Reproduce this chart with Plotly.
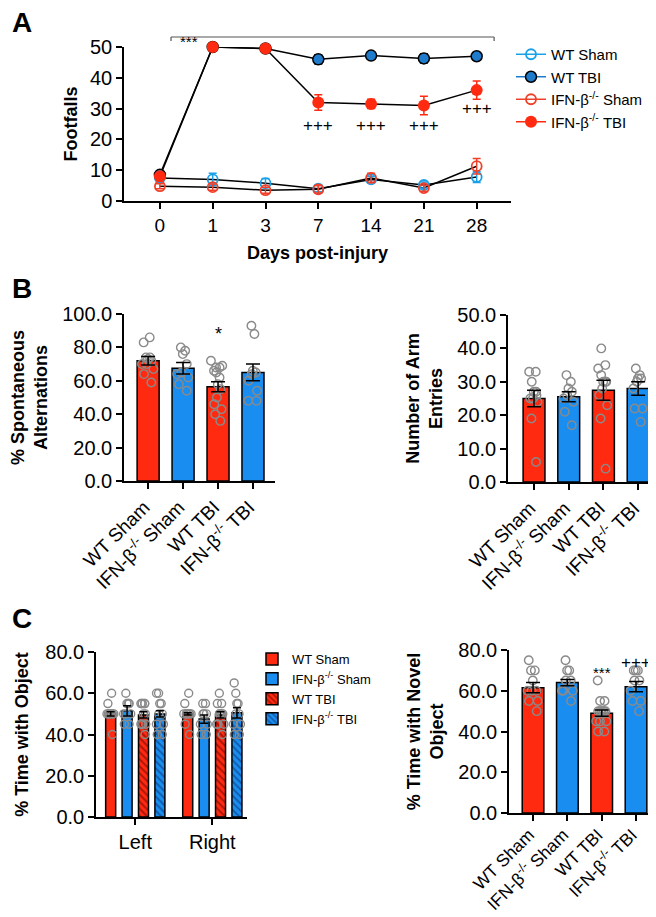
import plotly.graph_objects as go

W, H = 656, 917
FONT = "Liberation Sans, Arial, sans-serif"
RED = "#ff2a10"
BLUE = "#1a8ef0"
DOT = "#8a8a8a"

# ---------------- Panel A data ----------------
days = ["0", "1", "3", "7", "14", "21", "28"]
wt_sham = [7.5, 7.0, 5.8, 4.0, 7.0, 5.2, 7.8]
wt_sham_err = [0.8, 2.0, 1.5, 1.0, 1.0, 1.0, 1.8]
wt_tbi = [8.5, 50.0, 49.5, 46.0, 47.2, 46.3, 47.0]
wt_tbi_err = [0.8, 0.3, 0.5, 1.5, 0.8, 1.5, 0.8]
ifn_sham = [4.8, 4.5, 3.5, 3.8, 7.5, 4.2, 11.3]
ifn_sham_err = [0.8, 1.0, 1.0, 1.2, 1.5, 1.0, 2.5]
ifn_tbi = [8.0, 50.0, 49.5, 32.0, 31.5, 31.0, 36.0]
ifn_tbi_err = [0.8, 0.3, 0.5, 2.5, 1.5, 3.0, 3.0]
plus_days = ["7", "14", "21", "28"]
plus_y = [24.6, 24.6, 24.6, 30.0]

# ---------------- Panel B / C groups ----------------
groups = ["WT Sham", "IFN-β<sup>-/-</sup> Sham", "WT TBI", "IFN-β<sup>-/-</sup> TBI"]
group_colors = [RED, BLUE, RED, BLUE]

alt_mean = [72.0, 67.5, 56.5, 65.0]
alt_sem = [2.5, 3.5, 3.0, 5.0]
alt_pts = [
    [86, 83, 74, 74, 73, 70, 70, 67, 64, 59, 72],
    [80, 78, 76, 70, 65, 62, 58, 54, 64],
    [72, 69, 68, 68, 66, 65, 62, 58, 55, 50, 46, 43, 40, 36],
    [93, 88, 66, 65, 60, 54, 48, 48, 64],
]

arm_mean = [25.0, 25.5, 27.5, 28.0]
arm_sem = [2.5, 1.5, 3.0, 2.0]
arm_pts = [
    [33, 33, 30, 27, 26, 25, 25, 24, 19, 6, 27],
    [32, 30, 28, 27, 25, 24, 21, 17, 26],
    [40, 35, 34, 32, 30, 30, 30, 28, 26, 23, 19, 4],
    [34, 32, 31, 31, 30, 28, 22, 22, 18],
]

sides = ["Left", "Right"]
obj_mean = [[50.0, 50.0], [51.5, 47.5], [49.5, 49.5], [50.0, 50.5]]
obj_sem = [[1.0, 0.5], [2.5, 2.0], [1.5, 1.5], [1.5, 2.5]]
obj_pts = [
    [[60, 55, 50, 50, 50, 50, 50, 50, 50, 40, 50], [60, 50, 50, 50, 50, 50, 50, 50, 45, 40, 55]],
    [[60, 55, 55, 55, 50, 45, 45, 50, 50], [55, 55, 50, 50, 45, 45, 40, 40, 50]],
    [[55, 55, 55, 55, 55, 50, 50, 45, 45, 45, 40, 45], [60, 55, 55, 50, 50, 50, 45, 45, 40, 45, 50, 50]],
    [[60, 60, 55, 55, 50, 50, 45, 40, 45, 40], [65, 60, 55, 55, 50, 45, 40, 45, 40, 50]],
]

nov_mean = [61.5, 64.0, 49.0, 62.0]
nov_sem = [2.5, 1.5, 1.5, 2.5]
nov_pts = [
    [75, 70, 70, 65, 60, 60, 55, 50, 55, 60],
    [75, 70, 70, 65, 65, 60, 60, 55, 60],
    [65, 55, 55, 50, 50, 50, 50, 50, 50, 45, 45, 45, 40, 40],
    [70, 70, 70, 65, 60, 55, 50, 65, 55],
]


def xd(a, b):
    return [a / W, b / W]


def yd(top, bottom):
    return [1 - bottom / H, 1 - top / H]


fig = go.Figure()

# ---------------- Panel A ----------------
series = [
    ("WT Sham", wt_sham, wt_sham_err, dict(symbol="circle-open", color="#1aa0e8", size=10, line=dict(width=1.8)), "#1aa0e8"),
    ("WT TBI", wt_tbi, wt_tbi_err, dict(symbol="circle", color="#1f7ccc", size=11, line=dict(width=1.5, color="black")), "black"),
    ("IFN-β<sup>-/-</sup> Sham", ifn_sham, ifn_sham_err, dict(symbol="circle-open", color="#f0402a", size=10, line=dict(width=1.8)), "#f0402a"),
    ("IFN-β<sup>-/-</sup> TBI", ifn_tbi, ifn_tbi_err, dict(symbol="circle", color=RED, size=12, line=dict(width=0)), RED),
]
for name, vals, err, mk, ecol in series:
    fig.add_trace(go.Scatter(x=days, y=vals, mode="lines", line=dict(color="black", width=1.5),
                             showlegend=False, xaxis="x", yaxis="y", cliponaxis=False, hoverinfo="skip"))
for name, vals, err, mk, ecol in series:
    fig.add_trace(go.Scatter(x=days, y=vals, mode="markers", marker=mk, showlegend=False,
                             error_y=dict(type="data", array=err, color=ecol, thickness=1.5, width=4),
                             xaxis="x", yaxis="y", cliponaxis=False, name=name))
for name, vals, err, mk, ecol in series:
    lc = mk["color"]
    fig.add_trace(go.Scatter(x=[None], y=[None], mode="lines+markers", name=name,
                             line=dict(color=lc, width=1.5), marker=mk, legend="legend",
                             xaxis="x", yaxis="y"))

# ---------------- Panel B & C right (bar + dots) ----------------
def bar_panel(xa, ya, means, sems, pts, width):
    fig.add_trace(go.Bar(x=groups, y=means, width=width, marker=dict(color=group_colors, line=dict(color="black", width=1.5)),
                         showlegend=False, xaxis=xa, yaxis=ya))
    for g, p in zip(groups, pts):
        fig.add_trace(go.Box(x=[g] * len(p), y=p, boxpoints="all", jitter=0.85, pointpos=0,
                             fillcolor="rgba(0,0,0,0)", line=dict(width=0, color="rgba(0,0,0,0)"), whiskerwidth=0,
                             marker=dict(symbol="circle-open", color=DOT, size=8.5, line=dict(width=1.4)),
                             showlegend=False, xaxis=xa, yaxis=ya, hoverinfo="skip"))
    fig.add_trace(go.Scatter(x=groups, y=means, mode="markers", marker=dict(size=1, color="rgba(0,0,0,0)"),
                             error_y=dict(type="data", array=sems, color="black", thickness=1.5, width=7),
                             showlegend=False, xaxis=xa, yaxis=ya, cliponaxis=False))


bar_panel("x2", "y2", alt_mean, alt_sem, alt_pts, 0.63)
bar_panel("x3", "y3", arm_mean, arm_sem, arm_pts, 0.63)
bar_panel("x5", "y5", nov_mean, nov_sem, nov_pts, 0.63)

# ---------------- Panel C left (grouped, patterned) ----------------
slot = 0.213
bw = 0.13
for gi, g in enumerate(groups):
    pos = [ci + (gi - 1.5) * slot for ci in range(len(sides))]
    pattern = dict(shape="\\", fgcolor="#5a0000" if gi == 2 else "#0a2a66", size=5, solidity=0.4) if gi >= 2 else None
    mk = dict(color=group_colors[gi], line=dict(color="black", width=1.5))
    if pattern:
        mk["pattern"] = pattern
    fig.add_trace(go.Bar(x=pos, y=obj_mean[gi], width=bw, marker=mk, name=g, legend="legend2",
                         xaxis="x4", yaxis="y4"))
for gi, g in enumerate(groups):
    for ci in range(len(sides)):
        p = obj_pts[gi][ci]
        x0 = ci + (gi - 1.5) * slot
        fig.add_trace(go.Box(x=[x0] * len(p), y=p, boxpoints="all", jitter=1.0, pointpos=0, width=0.12,
                             fillcolor="rgba(0,0,0,0)", line=dict(width=0, color="rgba(0,0,0,0)"), whiskerwidth=0,
                             marker=dict(symbol="circle-open", color=DOT, size=8, line=dict(width=1.4)),
                             showlegend=False, xaxis="x4", yaxis="y4", hoverinfo="skip"))
for gi, g in enumerate(groups):
    pos = [ci + (gi - 1.5) * slot for ci in range(len(sides))]
    fig.add_trace(go.Scatter(x=pos, y=obj_mean[gi], mode="markers", marker=dict(size=1, color="rgba(0,0,0,0)"),
                             error_y=dict(type="data", array=obj_sem[gi], color="black", thickness=1.5, width=4),
                             showlegend=False, xaxis="x4", yaxis="y4", cliponaxis=False))

# ---------------- Axes ----------------
axis_common = dict(showline=True, linecolor="black", linewidth=1.5, ticks="outside", ticklen=6, tickwidth=1.5,
                   tickcolor="black", showgrid=False, zeroline=False, tickfont=dict(size=20, color="black"),
                   automargin=False)
title_font = dict(size=18, color="black", weight="bold")
rot = dict(tickangle=-45, tickfont=dict(size=19, color="black"), ticklabelshift=-4)
rot_c = dict(tickangle=-45, tickfont=dict(size=17.5, color="black"), ticklabelshift=-4, ticklabelstandoff=-3)

fig.update_layout(
    xaxis=dict(axis_common, domain=xd(116, 503), anchor="y", type="category", range=[-0.68, 6.65],
               title=dict(text="Days post-injury", font=title_font, standoff=12), tickfont=dict(size=19)),
    yaxis=dict(axis_common, domain=yd(39, 193), anchor="x", range=[0, 50], tickvals=[0, 10, 20, 30, 40, 50],
               title=dict(text="Footfalls", font=title_font, standoff=8)),
    xaxis2=dict(axis_common, domain=xd(116, 267), anchor="y2", type="category", range=[-0.69, 3.63], **rot),
    yaxis2=dict(axis_common, domain=yd(306, 473), anchor="x2", range=[0, 100], dtick=20, tickformat=".1f",
                title=dict(text="% Spontaneous<br>Alternations", font=title_font, standoff=10)),
    xaxis3=dict(axis_common, domain=xd(500, 652), anchor="y3", type="category", range=[-0.75, 3.63], **rot),
    yaxis3=dict(axis_common, domain=yd(307, 474), anchor="x3", range=[0, 50], dtick=10, tickformat=".1f",
                title=dict(text="Number of Arm<br>Entries", font=title_font, standoff=10)),
    xaxis4=dict(axis_common, domain=xd(88, 239), anchor="y4", range=[-0.51, 1.45], tickvals=[0, 1], ticktext=sides),
    yaxis4=dict(axis_common, domain=yd(644, 809), anchor="x4", range=[0, 80], dtick=20, tickformat=".1f",
                title=dict(text="% Time with Object", font=title_font, standoff=12)),
    xaxis5=dict(axis_common, domain=xd(501, 650), anchor="y5", type="category", range=[-0.70, 3.64], **rot_c),
    yaxis5=dict(axis_common, domain=yd(642, 805), anchor="x5", range=[0, 80], dtick=20, tickformat=".1f",
                title=dict(text="% Time with Novel<br>Object", font=title_font, standoff=10)),
)

fig.update_layout(
    width=W, height=H, margin=dict(l=0, r=0, t=0, b=0, autoexpand=False),
    paper_bgcolor="white", plot_bgcolor="white",
    font=dict(family=FONT, color="black"),
    barmode="overlay", boxmode="overlay",
    legend=dict(x=503 / W, y=1 - 30 / H, xanchor="left", yanchor="top", font=dict(size=15),
                bgcolor="rgba(0,0,0,0)", itemwidth=30, tracegroupgap=0),
    legend2=dict(x=244 / W, y=1 - 636 / H, xanchor="left", yanchor="top", font=dict(size=13),
                 bgcolor="rgba(0,0,0,0)", itemwidth=30, tracegroupgap=0),
)

# significance bracket in A
yb = 1 - 29 / H
yb2 = 1 - 33 / H
for x0, x1, y0, y1 in [(0.21, 6.33, yb, yb), (0.21, 0.21, yb, yb2), (6.33, 6.33, yb, yb2)]:
    fig.add_shape(type="line", xref="x", yref="paper", x0=x0, x1=x1, y0=y0, y1=y1,
                  line=dict(color="#555", width=1.2))

ann = []
blk = "black"
ann.append(dict(text="***", x=0.55, y=1 - 23 / H, xref="x", yref="paper", showarrow=False, font=dict(size=15, color=blk)))
for d, yy in zip(plus_days, plus_y):
    ann.append(dict(text="+++", x=days.index(d), y=yy, xref="x", yref="y", showarrow=False, font=dict(size=17, color=blk)))
ann.append(dict(text="*", x=2, y=88, xref="x2", yref="y2", showarrow=False, font=dict(size=18, color=blk)))
ann.append(dict(text="***", x=2, y=69, xref="x5", yref="y5", showarrow=False, font=dict(size=15, color=blk)))
ann.append(dict(text="+++", x=3, y=74, xref="x5", yref="y5", showarrow=False, font=dict(size=17, color=blk)))
for lab, yy in [("A", 14), ("B", 280), ("C", 610)]:
    ann.append(dict(text=f"<b>{lab}</b>", x=2 / W, y=1 - yy / H, xref="paper", yref="paper", xanchor="left",
                    yanchor="middle", showarrow=False, font=dict(size=28, color=blk)))
fig.update_layout(annotations=ann)

fig.write_html("out.html")
